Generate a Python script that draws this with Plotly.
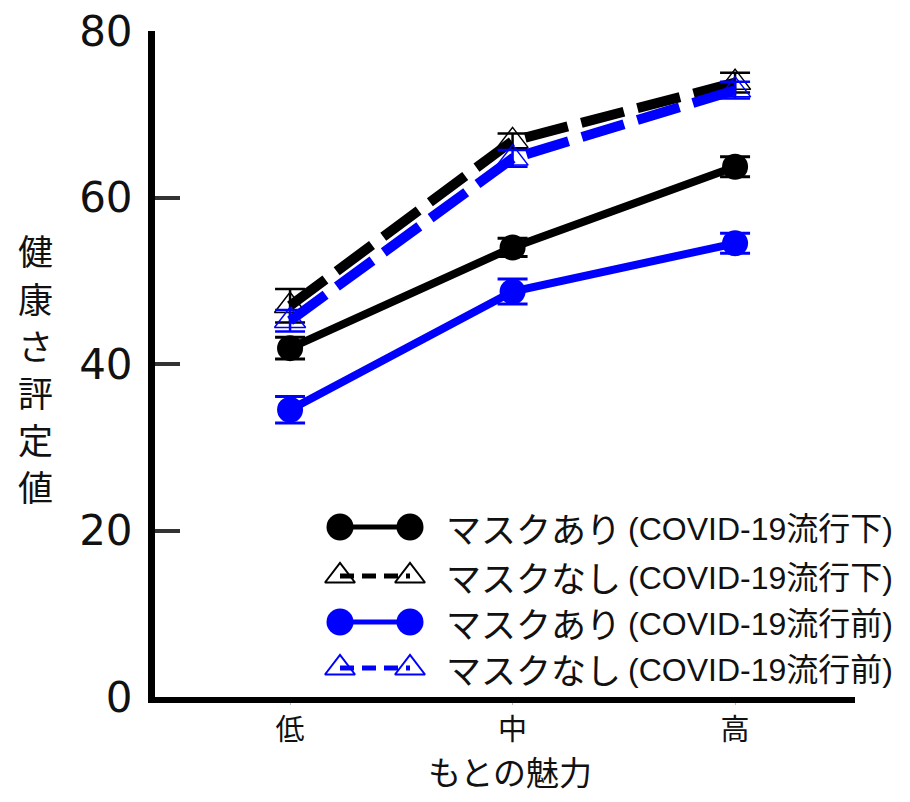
import plotly.graph_objects as go

categories = ["低", "中", "高"]
cat_pos = [0, 1, 2]

mask_during = [41.9, 54.0, 63.7]
mask_during_err = [1.3, 1.1, 1.2]
nomask_during = [47.0, 66.8, 73.8]
nomask_during_err = [2.0, 0.9, 1.2]
mask_before = [34.5, 48.7, 54.5]
mask_before_err = [1.6, 1.5, 1.2]
nomask_before = [45.2, 64.7, 72.9]
nomask_before_err = [1.3, 1.0, 1.0]

y_ticks = [0, 20, 40, 60, 80]

legend_kana = ["マスクあり", "マスクなし", "マスクあり", "マスクなし"]
legend_paren = ["(COVID-19流行下)", "(COVID-19流行下)", "(COVID-19流行前)", "(COVID-19流行前)"]

y_title = "健康さ評定値"
x_title = "もとの魅力"

BLUE = "#0000ff"
BLACK = "#000000"
JP = "Noto Sans CJK JP"
LAT = "Liberation Sans, Arial"

# page body has an 8px margin; plot area should sit at page x 155..855, y 31..697
PL, PR, PT, PB = 155, 855, 31, 697


def px(xp):
    return (xp - PL) / (PR - PL)


def py(yp):
    return (PB - yp) / (PB - PT)


fig = go.Figure()


def series(y, err, color, dash, symbol, lw, msize, mline, ethick):
    fig.add_trace(go.Scatter(
        x=cat_pos, y=y, mode="lines+markers",
        line=dict(color=color, width=lw, dash=dash),
        marker=dict(symbol=symbol, size=msize, color=color,
                    line=dict(color=color, width=mline)),
        error_y=dict(type="data", array=err, visible=True, color=color,
                     thickness=ethick, width=15),
        cliponaxis=False, showlegend=False,
    ))


series(mask_before, mask_before_err, BLUE, "solid", "circle", 8, 26, 0, 3)
series(mask_during, mask_during_err, BLACK, "solid", "circle", 8, 26, 0, 3)
series(nomask_during, nomask_during_err, BLACK, "44px,14px", "triangle-up-open", 10, 27, 1.5, 2.5)
series(nomask_before, nomask_before_err, BLUE, "44px,14px", "triangle-up-open", 10, 27, 1.5, 2.5)

# Legend keys on an overlay pixel-space axis
leg_rows = [527, 576, 622, 668]
leg_styles = [
    (BLACK, "solid", "circle", 27, 0),
    (BLACK, "14px,8px", "triangle-up-open", 26, 2),
    (BLUE, "solid", "circle", 27, 0),
    (BLUE, "14px,8px", "triangle-up-open", 26, 2),
]
for ry, (col, dash, sym, ms, ml) in zip(leg_rows, leg_styles):
    fig.add_trace(go.Scatter(
        x=[340, 410], y=[ry, ry], xaxis="x2", yaxis="y2", mode="lines+markers",
        line=dict(color=col, width=5, dash=dash),
        marker=dict(symbol=sym, size=ms, color=col, line=dict(color=col, width=ml)),
        showlegend=False, hoverinfo="skip", cliponaxis=False,
    ))

for ry, kana, paren in zip(leg_rows, legend_kana, legend_paren):
    fig.add_annotation(x=px(444), y=py(ry), xref="paper", yref="paper", text=kana,
                       showarrow=False, xanchor="left", yanchor="middle",
                       font=dict(family=JP, size=35, color="#111"))
    fig.add_annotation(x=px(626), y=py(ry + 2), xref="paper", yref="paper", text=paren,
                       showarrow=False, xanchor="left", yanchor="middle",
                       font=dict(family=LAT + ", " + JP, size=32, color="#111"))

# Y title stacked vertically, one upright character per row
for i, ch in enumerate(y_title):
    fig.add_annotation(xref="paper", yref="paper", x=px(36), y=py(250 + 47 * i),
                       text=ch, showarrow=False, xanchor="center", yanchor="middle",
                       font=dict(family=JP, size=35, color="#111"))

# X title
fig.add_annotation(xref="paper", yref="paper", x=px(510), y=py(771), text=x_title,
                   showarrow=False, xanchor="center", yanchor="middle",
                   font=dict(family=JP, size=33, color="#111"))

fig.update_layout(
    width=894, height=786,
    margin=dict(l=PL - 8, r=894 - (PR - 8), t=PT - 8, b=786 - (PB - 8), autoexpand=False),
    paper_bgcolor="white", plot_bgcolor="white",
    xaxis=dict(range=[-0.607, 2.539], tickvals=cat_pos, ticktext=categories,
               showline=True, linecolor="black", linewidth=6, showgrid=False,
               zeroline=False, ticks="outside", ticklen=2, tickcolor="#bbb",
               automargin=False, ticklabeloverflow="allow",
               tickfont=dict(family=JP, size=29, color="#111")),
    yaxis=dict(range=[0, 80], tickvals=y_ticks, showline=True, linecolor="black",
               linewidth=7, showgrid=False, zeroline=False, ticks="inside",
               ticklen=25, tickwidth=4, tickcolor="#333", automargin=False,
               ticklabelstandoff=7, ticklabeloverflow="allow",
               tickfont=dict(family="DejaVu Sans", size=42, color="#111")),
    xaxis2=dict(range=[PL, PR], overlaying="x", visible=False, fixedrange=True),
    yaxis2=dict(range=[PB, PT], overlaying="y", visible=False, fixedrange=True),
    showlegend=False,
)

fig.write_html("out.html")
